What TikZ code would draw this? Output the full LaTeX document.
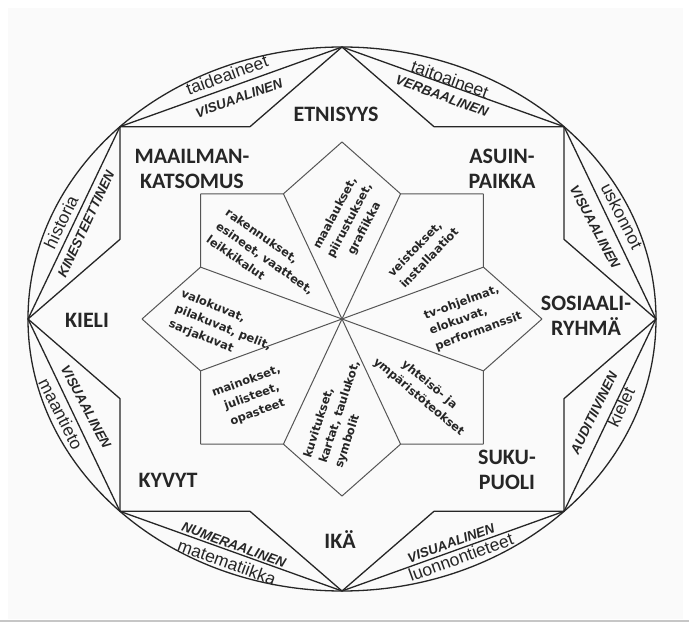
\documentclass[tikz,border=0pt]{standalone}
\usepackage{fontspec}
\newfontfamily\factorfont{Carlito}
\newfontfamily\subjectfont{Liberation Sans}
\newfontfamily\mediafont{DejaVu Sans}
\usetikzlibrary{calc}
\definecolor{InkDark}{HTML}{262626}
\definecolor{InkGray}{HTML}{555555}
\definecolor{Paper}{HTML}{FAFAFA}

\begin{document}
\begin{tikzpicture}[x=1pt,y=1pt,
  factor/.style={font=\factorfont\bfseries\fontsize{22}{25}\selectfont,align=center,text=InkDark,inner sep=0pt},
  subj/.style={font=\subjectfont\fontsize{17.5}{19}\selectfont,text=InkDark,inner sep=0pt},
  channel/.style={font=\subjectfont\bfseries\itshape\fontsize{13.5}{15}\selectfont,text=InkDark,inner sep=0pt},
  medium/.style={font=\mediafont\bfseries\fontsize{11.5}{16.5}\selectfont,text=InkDark,inner sep=0pt},
  outer line/.style={InkDark,line width=1.3pt,line join=round},
  inner line/.style={InkGray,line width=1pt,line join=round}]
\useasboundingbox (0,0) rectangle (689,622);
\fill[white] (0,0) rectangle (689,622);
\fill[Paper] (8,3) rectangle (683,614);
\fill[gray!45] (0,0) rectangle (689,2.5);

\coordinate (C) at (342,303);
% outer star, inner star
\foreach \a in {0,45,...,315} {
  \coordinate (tip\a) at ($(C)+(\a:314 and 272)$);
  \coordinate (dip\a) at ($(C)+({\a+22.5}:240.3 and 208.2)$);
  \coordinate (itip\a) at ($(C)+(\a:200 and 177)$);
  \coordinate (idip\a) at ($(C)+({\a+22.5}:153.1 and 135.5)$);
}
\draw[outer line] (C) ellipse [x radius=314, y radius=272];
\foreach \a [evaluate=\a as \b using {int(mod(\a+45,360))}] in {0,45,...,315} {
  \draw[outer line] (tip\a) -- (dip\a) -- (tip\b);
  \draw[outer line] (tip\a) -- (tip\b);
  \draw[inner line] (itip\a) -- (idip\a) -- (itip\b);
  \draw[inner line] (C) -- (idip\a);
}

% identity factors
\node[factor] (etn) at (336,508) {ETNISYYS};
\node[factor] (maa) at (192,453) {MAAILMAN-\\KATSOMUS};
\node[factor] (asu) at (502,453) {ASUIN-\\PAIKKA};
\node[factor] (kie) at (87,302) {KIELI};
\node[factor] (sos) at (586,306) {SOSIAALI-\\RYHMÄ};
\node[factor] (kyv) at (168,142) {KYVYT};
\node[factor] (suk) at (507,152) {SUKU-\\PUOLI};
\node[factor] (ika) at (340,82) {IKÄ};

% school subjects and channels
\node[subj,rotate=20] (taid) at (227,547) {taideaineet};
\node[channel,rotate=20] (vis1) at (239,524) {VISUAALINEN};
\node[subj,rotate=-20] (taito) at (450,543) {taitoaineet};
\node[channel,rotate=-20] (verb) at (442,526) {VERBAALINEN};
\node[subj,rotate=64] (hist) at (61,400) {historia};
\node[channel,rotate=65] (kin) at (86,398) {KINESTEETTINEN};
\node[subj,rotate=-63] (maan) at (61,208) {maantieto};
\node[channel,rotate=-62] (vis2) at (86,215) {VISUAALINEN};
\node[subj,rotate=-63] (usk) at (622,406) {uskonnot};
\node[channel,rotate=-62] (vis3) at (595,395) {VISUAALINEN};
\node[subj,rotate=64] (kiel) at (621,215) {kielet};
\node[channel,rotate=64] (aud) at (594,209) {AUDITIIVINEN};
\node[subj,rotate=-20] (mat) at (227,60) {matematiikka};
\node[channel,rotate=-20] (num) at (234,77) {NUMERAALINEN};
\node[subj,rotate=20] (luo) at (461,65) {luonnontieteet};
\node[channel,rotate=20] (vis4) at (451,79) {VISUAALINEN};

% media in the inner star
\node[medium,rotate=62,align=center] (maal) at (350,401) {maalaukset,\\piirustukset,\\grafiikka};
\node[medium,rotate=-35,align=left] (rak) at (265,364) {rakennukset,\\esineet, vaatteet,\\leikkikalut};
\node[medium,rotate=46,align=left] (vei) at (423,370) {veistokset,\\installaatiot};
\node[medium,rotate=-22,align=left] (val) at (223,294) {valokuvat,\\pilakuvat, pelit,\\sarjakuvat};
\node[medium,rotate=20,align=left] (tv) at (473,306) {tv-ohjelmat,\\elokuvat,\\performanssit};
\node[medium,rotate=20,align=center] (mai) at (252,225) {mainokset,\\julisteet,\\opasteet};
\node[medium,rotate=72,align=left] (kuv) at (340,210) {kuvitukset,\\kartat, taulukot,\\symbolit};
\node[medium,rotate=-40,align=center] (yht) at (424,231) {yhteisö- ja\\ympäristöteokset};
\end{tikzpicture}
\end{document}
